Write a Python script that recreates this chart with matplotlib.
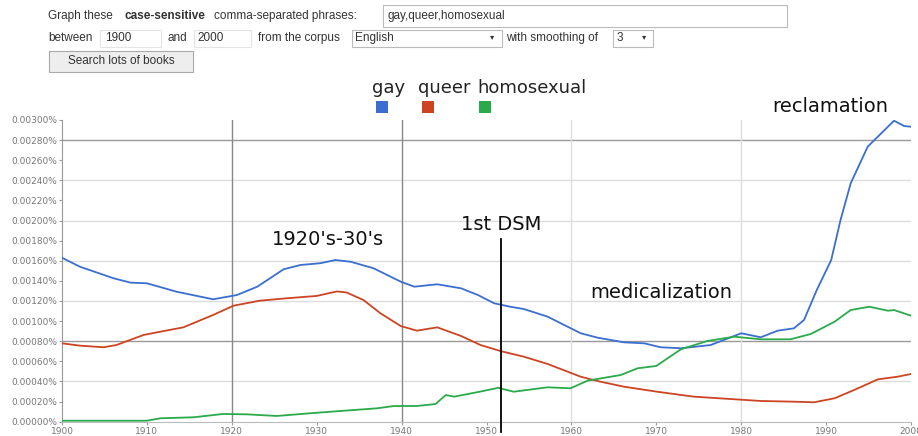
import matplotlib
matplotlib.use('Agg')
import matplotlib.pyplot as plt
from matplotlib.patches import Rectangle
import numpy as np

# values, in units of 0.001% (1.6 -> 0.00160%)
gay_years = [1900, 1902.1, 1906.1, 1908.1, 1910, 1913.5, 1917.8, 1920.6, 1923, 1926.1, 1928.1, 1930.4,
             1932.2, 1934, 1936.7, 1939.9, 1941.5, 1944.2, 1947, 1949, 1950.9, 1952.8, 1954.4, 1957.2,
             1961.1, 1963.1, 1966.2, 1968.6, 1970.5, 1972.9, 1976.4, 1980, 1982.3, 1984.3, 1986.2,
             1987.4, 1988.9, 1990.6, 1991.7, 1992.9, 1994.9, 1996.5, 1998, 1999.2, 2000]
gay_vals = [1.630, 1.541, 1.425, 1.382, 1.376, 1.292, 1.217, 1.259, 1.342, 1.515, 1.558, 1.575,
            1.607, 1.590, 1.525, 1.392, 1.342, 1.366, 1.326, 1.259, 1.177, 1.143, 1.120, 1.044,
            0.879, 0.835, 0.789, 0.779, 0.740, 0.730, 0.762, 0.879, 0.839, 0.905, 0.928,
            1.011, 1.309, 1.607, 2.005, 2.370, 2.734, 2.867, 2.992, 2.939, 2.932]

queer_years = [1900, 1902.1, 1904.9, 1906.4, 1909.6, 1911.6, 1914.3, 1917.8, 1920.2, 1923.3, 1926.5,
               1930, 1931.3, 1932.4, 1933.5, 1935.5, 1937.5, 1939.9, 1941.8, 1944.2, 1947, 1949.3, 1951.7,
               1954.4, 1957.2, 1961.1, 1963.4, 1966.2, 1970.1, 1974.4, 1979.2, 1982.3, 1986.2,
               1988.6, 1991, 1993.3, 1996.1, 1998.4, 2000]
queer_vals = [0.779, 0.756, 0.740, 0.762, 0.862, 0.895, 0.938, 1.061, 1.153, 1.203, 1.227,
              1.250, 1.275, 1.295, 1.285, 1.210, 1.078, 0.951, 0.905, 0.938, 0.852, 0.762, 0.701,
              0.646, 0.574, 0.447, 0.398, 0.348, 0.298, 0.249, 0.223, 0.206, 0.199,
              0.193, 0.233, 0.315, 0.421, 0.447, 0.474]

homo_years = [1900, 1910, 1911.6, 1915.5, 1919, 1921.8, 1925.3, 1929.1, 1933.2, 1937.1, 1939.1,
              1941.8, 1944, 1945.2, 1946.2, 1949.2, 1951.4, 1953.2, 1957.2, 1959.9, 1961.9,
              1965.8, 1967.8, 1970, 1972.9, 1976, 1979.2, 1982.3, 1985.8, 1988.2, 1991,
              1992.9, 1995.1, 1997.3, 1998, 2000]
homo_vals = [0.010, 0.010, 0.034, 0.044, 0.077, 0.073, 0.057, 0.083, 0.109, 0.133, 0.156,
             0.156, 0.176, 0.265, 0.249, 0.298, 0.337, 0.298, 0.342, 0.332, 0.408,
             0.464, 0.531, 0.554, 0.720, 0.802, 0.845, 0.819, 0.819, 0.872, 0.994,
             1.110, 1.143, 1.103, 1.110, 1.054]

series_names = ['gay', 'queer', 'homosexual']
series_colors = ['#3a6fd0', '#cc4422', '#2aaa4a']

ytick_vals = np.arange(0, 3.01, 0.2)
xtick_years = np.arange(1900, 2001, 10)

W, H = 918, 436
fig = plt.figure(figsize=(W / 100, H / 100), dpi=100)
fig.patch.set_facecolor('white')


def fx(x):
    return x / W


def fy(y):
    return 1 - y / H


def box(x0, y0, x1, y1, ec='#bbbbbb', fc='white', lw=0.8):
    fig.add_artist(Rectangle((fx(x0), fy(y1)), fx(x1) - fx(x0), fy(y0) - fy(y1),
                             transform=fig.transFigure, ec=ec, fc=fc, lw=lw))


form_font = ['Liberation Sans', 'DejaVu Sans']
tc = '#333333'
fs = 8.5


def ftext(x, y, s, **kw):
    fig.text(fx(x), fy(y), s, family=form_font, fontsize=kw.pop('fontsize', fs), color=tc,
             va='center', **kw)


# query form on top
ftext(48, 16, 'Graph these')
ftext(124, 16, 'case-sensitive', weight='bold')
ftext(214, 16, 'comma-separated phrases:')
box(383, 5, 787, 27)
ftext(387, 16, 'gay,queer,homosexual')

ftext(48, 38, 'between')
box(100, 30, 161, 47, ec='#e4e4e4')
ftext(105, 38, '1900')
ftext(167, 38, 'and')
box(194, 30, 251, 47, ec='#e4e4e4')
ftext(197, 38, '2000')
ftext(258, 38, 'from the corpus')
box(352, 30, 502, 47)
ftext(355, 38, 'English')
ftext(490, 38, '\u25be', fontsize=6)
ftext(506, 38, 'with smoothing of')
box(613, 30, 653, 47)
ftext(617, 38, '3')
ftext(642, 38, '\u25be', fontsize=6)
box(49, 51, 193, 72, ec='#aaaaaa', fc='#eeeeee')
ftext(121, 61, 'Search lots of books', ha='center')

# legend
fig.text(fx(372), fy(88), 'gay', fontsize=13, color='#222222', va='center')
fig.text(fx(418), fy(88), 'queer', fontsize=13, color='#222222', va='center')
fig.text(fx(477), fy(88), 'homosexual', fontsize=13, color='#222222', va='center')
for sx, c in zip([376, 422, 479], series_colors):
    fig.add_artist(Rectangle((fx(sx), fy(113)), 12 / W, 12 / H, transform=fig.transFigure,
                             ec='none', fc=c))

# chart
ax = fig.add_axes([fx(62), fy(421.7), fx(911) - fx(62), fy(119.9) - fy(421.7)])
ax.set_xlim(1900, 2000)
ax.set_ylim(0, 3.0)

for v in np.arange(0.4, 3.01, 0.4):
    dark = abs(v - 2.8) < 1e-6 or abs(v - 0.8) < 1e-6
    ax.axhline(v, color='#999999' if dark else '#dddddd', lw=1.0, zorder=0)
for yr in [1920, 1940, 1960, 1980]:
    ax.axvline(yr, color='#888888' if yr < 1950 else '#dddddd', lw=1.0, zorder=0)

for yrs, vals, c in zip([gay_years, queer_years, homo_years], [gay_vals, queer_vals, homo_vals], series_colors):
    ax.plot(yrs, vals, color=c, lw=1.3, zorder=3)

# 1st DSM marker
ax.plot([1951.7, 1951.7], [-0.1, 1.82], color='black', lw=1.3, clip_on=False, zorder=4)

ann_font = 14
ax.text(1931.3, 1.81, "1920's-30's", fontsize=ann_font, ha='center', va='center', color='#111111')
ax.text(1951.7, 1.96, '1st DSM', fontsize=ann_font, ha='center', va='center', color='#111111')
ax.text(1970.6, 1.28, 'medicalization', fontsize=ann_font, ha='center', va='center', color='#111111')
ax.text(1990.5, 3.13, 'reclamation', fontsize=ann_font, ha='center', va='center', color='#111111',
        clip_on=False)

ax.set_yticks(ytick_vals)
ax.set_yticklabels(['%.5f%%' % (v / 1000) for v in ytick_vals])
ax.set_xticks(xtick_years)
ax.set_xticklabels([str(y) for y in xtick_years])
ax.tick_params(axis='both', labelsize=6.5, labelcolor='#777777', color='#999999', length=2, pad=1.5)

for s in ['top', 'right']:
    ax.spines[s].set_visible(False)
ax.spines['left'].set_color('#999999')
ax.spines['bottom'].set_color('#bbbbbb')

fig.savefig('out.png', dpi=100, facecolor='white')
